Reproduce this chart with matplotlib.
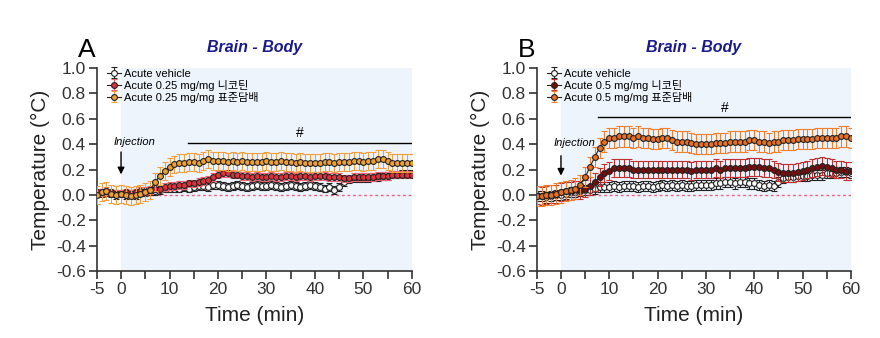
import numpy as np
import matplotlib.pyplot as plt

plt.rcParams['font.family'] = ['Liberation Sans', 'Noto Sans CJK KR']
plt.rcParams['axes.unicode_minus'] = False

time = list(range(-5, 61))

# Panel A
a_veh = [0.02, 0.01, 0.02, 0.01, 0.0, 0.01,
         0.0, 0.01, 0.0, 0.02, 0.02, 0.03, 0.03, 0.04, 0.05, 0.05,
         0.05, 0.05, 0.06, 0.05, 0.06, 0.07, 0.07, 0.06, 0.08, 0.08,
         0.07, 0.06, 0.07, 0.08, 0.07, 0.06, 0.07, 0.08, 0.07, 0.07,
         0.08, 0.07, 0.06, 0.07, 0.08, 0.07, 0.06, 0.07, 0.08, 0.07,
         0.06, 0.05, 0.06, 0.04, 0.06, 0.10, 0.12, 0.13, 0.13, 0.13,
         0.13, 0.14, 0.14, 0.15, 0.15, 0.16, 0.16, 0.17, 0.17, 0.17]
a_nic = [0.02, 0.02, 0.03, 0.02, 0.01, 0.01,
         0.02, 0.01, 0.02, 0.03, 0.03, 0.04, 0.05, 0.05, 0.06, 0.07,
         0.07, 0.08, 0.08, 0.09, 0.09, 0.10, 0.11, 0.12, 0.14, 0.16,
         0.17, 0.17, 0.16, 0.16, 0.15, 0.15, 0.14, 0.15, 0.14, 0.14,
         0.15, 0.14, 0.14, 0.15, 0.15, 0.14, 0.15, 0.15, 0.14, 0.15,
         0.15, 0.15, 0.14, 0.14, 0.14, 0.13, 0.13, 0.14, 0.14, 0.14,
         0.14, 0.14, 0.15, 0.15, 0.15, 0.16, 0.16, 0.16, 0.16, 0.16]
a_tob = [0.0, 0.02, 0.03, 0.01, 0.0, 0.01,
         0.0, -0.01, 0.0, 0.01, 0.02, 0.04, 0.10, 0.15, 0.19, 0.22,
         0.24, 0.25, 0.25, 0.26, 0.26, 0.25, 0.27, 0.28, 0.27, 0.27,
         0.27, 0.26, 0.27, 0.26, 0.27, 0.26, 0.26, 0.26, 0.26, 0.27,
         0.26, 0.26, 0.27, 0.26, 0.26, 0.25, 0.26, 0.25, 0.25, 0.25,
         0.25, 0.26, 0.26, 0.25, 0.26, 0.26, 0.26, 0.27, 0.27, 0.26,
         0.27, 0.27, 0.28, 0.28, 0.27, 0.25, 0.25, 0.25, 0.25, 0.25]
a_err = [0.03, 0.03, 0.07]

# Panel B
b_veh = [-0.01, -0.01, -0.02, -0.01, 0.0, 0.0,
         0.01, 0.02, 0.02, 0.03, 0.04, 0.04, 0.05, 0.06, 0.06, 0.06,
         0.07, 0.06, 0.07, 0.07, 0.07, 0.06, 0.07, 0.07, 0.06, 0.07,
         0.08, 0.07, 0.08, 0.07, 0.08, 0.07, 0.07, 0.08, 0.08, 0.08,
         0.08, 0.09, 0.09, 0.10, 0.10, 0.09, 0.10, 0.10, 0.09, 0.09,
         0.08, 0.07, 0.08, 0.07, 0.10, 0.13, 0.14, 0.14, 0.15, 0.15,
         0.15, 0.16, 0.16, 0.16, 0.17, 0.17, 0.17, 0.18, 0.18, 0.17]
b_nic = [0.0, -0.01, 0.0, 0.01, 0.01, 0.02,
         0.03, 0.03, 0.04, 0.04, 0.05, 0.07, 0.10, 0.14, 0.17, 0.19,
         0.21, 0.21, 0.21, 0.21, 0.20, 0.20, 0.20, 0.20, 0.20, 0.20,
         0.20, 0.20, 0.20, 0.20, 0.20, 0.20, 0.19, 0.20, 0.20, 0.20,
         0.20, 0.21, 0.20, 0.21, 0.21, 0.21, 0.21, 0.21, 0.22, 0.22,
         0.22, 0.21, 0.21, 0.20, 0.18, 0.17, 0.17, 0.17, 0.18, 0.19,
         0.20, 0.21, 0.22, 0.23, 0.22, 0.21, 0.20, 0.20, 0.19, 0.19]
b_tob = [-0.01, -0.01, 0.0, 0.0, 0.01, 0.02,
         0.03, 0.04, 0.05, 0.08, 0.14, 0.22, 0.30, 0.37, 0.42, 0.45,
         0.45, 0.46, 0.46, 0.46, 0.45, 0.46, 0.45, 0.45, 0.44, 0.44,
         0.45, 0.45, 0.43, 0.42, 0.42, 0.42, 0.41, 0.40, 0.40, 0.40,
         0.40, 0.41, 0.41, 0.41, 0.42, 0.42, 0.42, 0.42, 0.43, 0.43,
         0.42, 0.42, 0.41, 0.42, 0.42, 0.43, 0.43, 0.43, 0.44, 0.44,
         0.44, 0.44, 0.45, 0.45, 0.45, 0.45, 0.45, 0.46, 0.46, 0.45]
b_err = [0.04, 0.07, 0.08]

labels_a = ['Acute vehicle', 'Acute 0.25 mg/mg 니코틴', 'Acute 0.25 mg/mg 표준담배']
labels_b = ['Acute vehicle', 'Acute 0.5 mg/mg 니코틴', 'Acute 0.5 mg/mg 표준담배']

fig = plt.figure(figsize=(8.8, 3.38), dpi=100)


def panel(rect, letter, series, errs, labels, faces, ecols, sig_start, sig_y, inj):
    ax = fig.add_axes(rect)
    ax.axvspan(0, 60, color='#eef4fb', zorder=0)
    ax.axhline(0, color='#f06080', ls=(0, (2, 2)), lw=1, zorder=1)
    for i, (y, e, lab, fc, ec) in enumerate(zip(series, errs, labels, faces, ecols)):
        ax.errorbar(time, y, yerr=e, fmt='-o', color='#222222', lw=0.8,
                    mfc=fc, mec='#222222', mew=0.8, ms=4.2,
                    ecolor=ec, elinewidth=0.8, capsize=2, capthick=0.8,
                    label=lab, zorder=3 + i)
    ax.set_xlim(-5, 60)
    ax.set_ylim(-0.6, 1.0)
    ax.set_xticks([-5, 0, 10, 20, 30, 40, 50, 60])
    ax.set_xticks([5, 15, 25, 35, 45, 55], minor=True)
    ax.set_yticks(np.arange(-0.6, 1.01, 0.2))
    ax.yaxis.set_major_formatter(plt.FormatStrFormatter('%.1f'))
    ax.tick_params(which='both', direction='out', length=6, width=1.2,
                   labelsize=12.5, colors='#333333', pad=2)
    for s in ['top', 'right']:
        ax.spines[s].set_visible(False)
    for s in ['left', 'bottom']:
        ax.spines[s].set_linewidth(1.2)
        ax.spines[s].set_color('#333333')
    ax.set_xlabel('Time (min)', fontsize=15, labelpad=6, color='#222222')
    ax.set_ylabel('Temperature (°C)', fontsize=15, color='#222222')
    ax.plot([sig_start, 60], [sig_y, sig_y], color='black', lw=1, zorder=6)
    ax.text((sig_start + 60) / 2, sig_y + 0.02, '#', ha='center', va='bottom', fontsize=10)
    ax.annotate('', xy=(0, inj[2]), xytext=(0, inj[1]),
                arrowprops=dict(arrowstyle='-|>', color='black', lw=1, mutation_scale=10))
    ax.text(-1.5, inj[0], 'Injection', style='italic', fontsize=8, ha='left', va='center')
    ax.legend(loc='upper left', bbox_to_anchor=(0.01, 1.03), frameon=False,
              fontsize=8, handlelength=1.3, handletextpad=0.3, labelspacing=0.1,
              borderaxespad=0.2)
    ax.text(-0.06, 1.09, letter, transform=ax.transAxes, fontsize=19, va='center')
    ax.text(0.5, 1.1, 'Brain - Body', transform=ax.transAxes, fontsize=11.5,
            fontweight='bold', style='italic', color='#1a1a8c', ha='center', va='center')
    return ax


panel([0.110, 0.198, 0.358, 0.601], 'A', [a_veh, a_nic, a_tob], a_err, labels_a,
      ['white', '#e0303a', '#f0a030'], ['#222222', '#f06070', '#f0a040'], 13.8, 0.41,
      (0.42, 0.36, 0.14))
panel([0.610, 0.198, 0.357, 0.601], 'B', [b_veh, b_nic, b_tob], b_err, labels_b,
      ['white', '#7a0c0c', '#e87020'], ['#222222', '#c03030', '#f08030'], 7.6, 0.61,
      (0.41, 0.33, 0.13))

fig.savefig('out.png', dpi=100)
